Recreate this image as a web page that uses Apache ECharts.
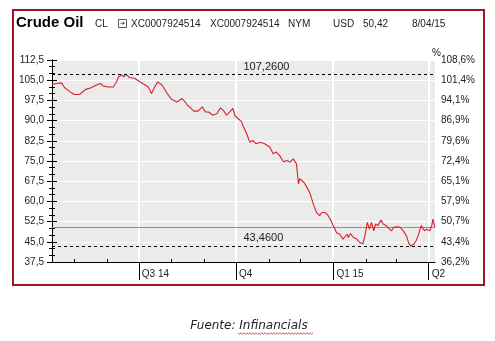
<!DOCTYPE html>
<html><head><meta charset="utf-8">
<script src="https://cdn.jsdelivr.net/npm/echarts@6/dist/echarts.min.js"></script>
<style>html,body{margin:0;padding:0;background:#fff;}#c{width:495px;height:341px;}</style>
</head><body><div id="c"></div>
<script>
// Days since 2014-04-10
const days = [0,4,9,12,15,18,21,26,29,32,37,43,46,48,53,58,61,63,66,68,70,73,78,83,88,91,94,97,100,104,107,110,113,118,123,126,128,130,134,138,142,145,148,152,156,159,162,165,168,171,173,176,179,181,184,187,190,193,197,201,206,209,212,215,219,222,225,228,231,233,234,238,241,244,247,250,253,255,258,261,263,264,269,272,275,279,280,282,285,288,291,294,296,298,300,302,304,306,308,311,313,316,319,321,323,326,329,332,335,337,339,342,344,346,349,352,354,357,359,360,362];
const prices = [103.4,103.8,104.0,102.2,101.3,100.4,99.7,99.7,100.7,101.6,102.2,103.4,103.8,102.9,102.5,102.5,104.4,106.3,106.9,106.3,107.26,106.0,105.7,104.4,103.2,102.5,100.1,102.5,104.4,103.2,101.3,99.4,97.9,96.9,98.2,96.9,95.7,95.1,93.5,93.5,95.1,93.2,93.2,92.0,92.6,94.7,93.8,92.0,93.2,94.5,91.7,90.7,89.7,87.6,85.1,82.0,82.6,81.4,82.0,81.4,80.1,77.7,78.3,77.1,74.6,75.2,74.6,75.8,74.0,66.5,68.4,67.1,65.2,62.8,59.0,55.9,54.7,55.9,55.9,54.7,53.4,52.8,48.4,47.8,46.0,47.8,46.6,48.0,46.6,46.0,44.7,44.3,47.8,52.2,49.7,52.2,49.1,51.6,51.0,53.1,51.6,51.0,49.7,49.1,50.4,50.6,50.4,49.1,47.2,44.7,43.46,44.1,45.3,47.2,51.0,49.1,49.7,49.1,51.0,53.4,50.42];
const monthDays = [21,52,113,144,205,235,297,325];
const quarterDays = [82,174,266,356];
const quarterLabels = ['Q3 14','Q4','Q1 15','Q2'];
const rightLabels = ['36,2%','43,4%','50,7%','57,9%','65,1%','72,4%','79,6%','86,9%','94,1%','101,4%','108,6%'];
const maxLevel = 107.26, minLevel = 43.46, lastPrice = 50.42;
const yMin = 37.5, yMax = 112.5;
const header = [
  ['CL',95],['XC0007924514',131],['XC0007924514',210],['NYM',288],['USD',333],['50,42',363],['8/04/15',412]
];

const FONT = 'Liberation Sans, Arial, sans-serif';
const chart = echarts.init(document.getElementById('c'), null, {renderer:'canvas'});
const data = days.map((d,i)=>[d,prices[i]]);

const zig = [];
for (let x = 238, k = 0; x <= 313; x += 1.5, k++) zig.push([x, 333 + (k % 2 ? 1.2 : -0.2)]);

const graphics = [
  {type:'rect', shape:{x:13,y:10,width:471,height:275}, style:{fill:null, stroke:'#a11620', lineWidth:2}, silent:true},
  {type:'text', x:16, y:23, style:{text:'Crude Oil', font:'bold 15px '+FONT, fill:'#000', textVerticalAlign:'middle'}},
  {type:'rect', shape:{x:118.5,y:19.5,width:8,height:8}, style:{fill:'#fff', stroke:'#555', lineWidth:1}},
  {type:'text', x:122.5, y:23.5, style:{text:'➔', font:'6px DejaVu Sans', fill:'#333', textAlign:'center', textVerticalAlign:'middle'}},
  {type:'text', x:432, y:53, style:{text:'%', font:'10px '+FONT, fill:'#222', textVerticalAlign:'middle'}},
  {type:'text', x:249, y:326, style:{text:'Fuente: Infinancials', font:'italic 12px DejaVu Sans', fill:'#222', textAlign:'center', textVerticalAlign:'middle'}},
  {type:'polyline', shape:{points:zig}, style:{stroke:'#d02020', lineWidth:0.8, fill:null}}
];
header.forEach(h => graphics.push({type:'text', x:h[1], y:24, style:{text:h[0], font:'10px '+FONT, fill:'#222', textVerticalAlign:'middle'}}));

chart.setOption({
  animation:false,
  backgroundColor:'#fff',
  textStyle:{fontFamily:FONT},
  grid:{left:52, right:60, top:60, bottom:79, show:true, backgroundColor:'#ebebeb', borderWidth:0},
  xAxis:[
    {type:'value', min:0, max:362, position:'bottom',
     axisLine:{show:true, lineStyle:{color:'#000', width:1}},
     axisTick:{show:true, inside:true, length:3, customValues:monthDays, lineStyle:{color:'#000'}},
     axisLabel:{show:false}, splitLine:{show:false}},
    {type:'value', min:0, max:362, position:'bottom', gridIndex:0,
     axisLine:{show:false},
     axisTick:{show:true, length:18, customValues:quarterDays, lineStyle:{color:'#000'}},
     axisLabel:{show:true, customValues:quarterDays, margin:7, align:'left', padding:[0,0,0,3],
       fontSize:10, color:'#222', fontFamily:FONT,
       formatter:v=>{const i=quarterDays.indexOf(v); return i>=0?quarterLabels[i]:'';}},
     splitLine:{show:false}}
  ],
  yAxis:[
    {type:'value', min:yMin, max:yMax, interval:7.5, position:'left',
     axisLine:{show:true, lineStyle:{color:'#000'}},
     axisTick:{show:true, length:5, lineStyle:{color:'#000'}},
     minorTick:{show:true, splitNumber:3, length:3, lineStyle:{color:'#000'}},
     axisLabel:{margin:8, fontSize:10, color:'#222', fontFamily:FONT, formatter:v=>v.toFixed(1).replace('.',',')},
     splitLine:{show:true, lineStyle:{color:'#fff', width:1.2}}},
    {type:'value', min:yMin, max:yMax, interval:7.5, position:'right',
     axisLine:{show:true, lineStyle:{color:'#000'}},
     axisTick:{show:true, length:5, lineStyle:{color:'#000'}},
     minorTick:{show:true, splitNumber:3, length:3, lineStyle:{color:'#000'}},
     axisLabel:{margin:6, fontSize:10, color:'#222', fontFamily:FONT,
       formatter:v=>rightLabels[Math.round((v-yMin)/7.5)]},
     splitLine:{show:false}}
  ],
  series:[
    {type:'custom', xAxisIndex:0, yAxisIndex:0, z:1, silent:true,
     data:quarterDays.map(d=>[d, yMin]),
     renderItem:(params, api)=>{
       const top = api.coord([api.value(0), yMax]);
       const bot = api.coord([api.value(0), yMin]);
       return {type:'rect', shape:{x:Math.round(top[0])-1, y:top[1], width:2, height:bot[1]-top[1]},
               style:{fill:'#ffffff'}};
     }},
    {type:'custom', xAxisIndex:0, yAxisIndex:0, z:2, silent:true,
     data:[[0, lastPrice]],
     renderItem:(params, api)=>{
       const l = api.coord([0, api.value(1)]);
       const r = api.coord([362, api.value(1)]);
       return {type:'rect', shape:{x:l[0], y:Math.round(l[1]), width:r[0]-l[0], height:1}, style:{fill:'#6a8ff2'}};
     }},
    {type:'line', xAxisIndex:0, yAxisIndex:0, data:data, showSymbol:false, symbol:'none', z:3,
     lineStyle:{color:'#d9212b', width:1.1}, itemStyle:{color:'#d9212b'},
     markLine:{silent:true, symbol:'none', animation:false,
       data:[
         {yAxis:maxLevel, lineStyle:{color:'#000', type:[3,3], width:1},
          label:{show:true, position:'insideMiddleBottom', formatter:maxLevel.toFixed(4).replace('.',','), color:'#222', fontSize:11, fontFamily:FONT, align:'left', distance:[0,-13]}},
         {yAxis:minLevel, lineStyle:{color:'#000', type:[3,3], width:1},
          label:{show:true, position:'insideMiddleTop', formatter:minLevel.toFixed(4).replace('.',','), color:'#222', fontSize:11, fontFamily:FONT, align:'left', distance:[0,2]}}
       ]}}
  ],
  graphic:graphics
});
</script></body></html>
